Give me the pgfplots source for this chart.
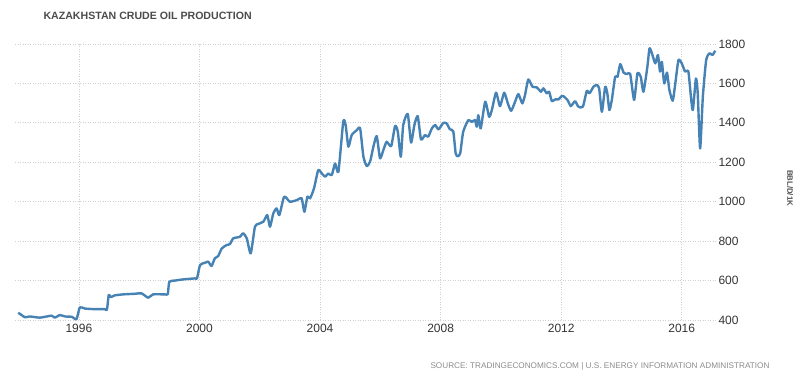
\documentclass[border=0pt]{standalone}
\usepackage{fontspec}
\setmainfont{Liberation Sans}
\usepackage{pgfplots}
\usepackage{pgfplotstable}
\pgfplotsset{compat=1.18}
\definecolor{lineblue}{HTML}{4682B4}
\definecolor{gridgray}{HTML}{CFCFD6}
\pgfplotstableread{
year val
1993.99 437
1994.21 414
1994.37 418
1994.71 412
1995.09 422
1995.20 412
1995.37 425
1995.54 418
1995.77 416
1995.92 404
1996.03 464
1996.20 458
1996.53 455
1996.86 455
1996.93 452
1996.99 527
1997.06 516
1997.19 525
1997.47 530
1997.86 533
1998.08 535
1998.30 513
1998.46 530
1998.85 530
1998.95 532
1999.00 594
1999.19 600
1999.46 606
1999.85 611
1999.92 612
2000.02 679
2000.18 690
2000.29 696
2000.40 674
2000.51 713
2000.62 724
2000.74 763
2000.90 780
2001.01 785
2001.12 814
2001.34 822
2001.45 840
2001.57 814
2001.70 738
2001.84 873
2001.95 887
2002.12 899
2002.25 932
2002.34 873
2002.45 941
2002.56 966
2002.65 932
2002.81 1025
2003.00 1000
2003.23 1008
2003.39 1017
2003.48 949
2003.58 1025
2003.67 1017
2003.80 1068
2003.94 1160
2004.06 1143
2004.17 1127
2004.27 1143
2004.39 1135
2004.50 1194
2004.61 1152
2004.77 1406
2004.85 1389
2004.94 1279
2005.05 1338
2005.22 1363
2005.33 1372
2005.44 1228
2005.55 1181
2005.66 1203
2005.77 1279
2005.88 1333
2005.99 1220
2006.10 1262
2006.21 1304
2006.36 1282
2006.49 1384
2006.58 1355
2006.68 1228
2006.76 1389
2006.91 1445
2007.02 1300
2007.13 1389
2007.24 1434
2007.35 1316
2007.48 1338
2007.59 1330
2007.71 1372
2007.82 1389
2007.93 1367
2008.09 1400
2008.20 1397
2008.31 1367
2008.42 1357
2008.50 1245
2008.57 1231
2008.65 1245
2008.75 1355
2008.92 1414
2009.03 1405
2009.14 1414
2009.20 1380
2009.25 1439
2009.33 1372
2009.48 1507
2009.61 1431
2009.70 1465
2009.84 1553
2009.97 1485
2010.11 1553
2010.23 1499
2010.34 1461
2010.47 1507
2010.58 1546
2010.71 1499
2010.80 1541
2010.91 1620
2011.05 1583
2011.19 1580
2011.33 1558
2011.41 1575
2011.52 1550
2011.60 1558
2011.69 1510
2011.80 1519
2011.91 1519
2012.02 1536
2012.07 1536
2012.21 1516
2012.32 1485
2012.46 1510
2012.57 1482
2012.72 1482
2012.85 1562
2012.94 1550
2013.07 1583
2013.18 1592
2013.26 1575
2013.35 1456
2013.46 1583
2013.53 1550
2013.60 1465
2013.68 1516
2013.79 1634
2013.87 1634
2013.96 1698
2014.07 1655
2014.18 1648
2014.29 1648
2014.42 1516
2014.53 1651
2014.64 1634
2014.73 1558
2014.86 1685
2014.93 1778
2015.01 1753
2015.12 1702
2015.21 1744
2015.28 1660
2015.34 1710
2015.42 1600
2015.51 1655
2015.59 1567
2015.70 1512
2015.78 1592
2015.89 1718
2016.00 1702
2016.11 1660
2016.22 1660
2016.31 1524
2016.37 1465
2016.47 1625
2016.53 1550
2016.61 1270
2016.70 1532
2016.81 1718
2016.92 1753
2017.02 1744
2017.11 1766
}\oildata
\begin{document}
\begin{tikzpicture}
\path[use as bounding box] (0pt,0pt) rectangle (800pt,378pt);
\begin{axis}[
  at={(15pt,58pt)}, anchor=south west,
  scale only axis, width=702pt, height=276pt,
  xmin=1993.88, xmax=2017.17, ymin=400, ymax=1800,
  clip=false,
  axis line style={draw=none},
  tick style={draw=none},
  grid=major,
  major grid style={gridgray, line width=0.8pt, dash pattern=on 1pt off 1.5pt},
  xtick={1996,2000,2004,2008,2012,2016},
  ytick={400,600,800,1000,1200,1400,1600,1800},
  yticklabel pos=right,
  /pgf/number format/1000 sep={},
  /pgf/number format/assume math mode=true,
  ticklabel style={font=\fontsize{12}{14}\selectfont, text=black!80},
  xticklabel style={yshift=-1pt},
  yticklabel style={xshift=-2pt},
]
\addplot[lineblue, line width=2.4pt, line join=round, smooth, tension=0.35] table[x=year, y=val] {\oildata};
\end{axis}
\node[anchor=west, font=\bfseries\fontsize{10.6}{12}\selectfont, text=black!70] at (40pt,362.5pt) {KAZAKHSTAN CRUDE OIL PRODUCTION};
\node[anchor=east, font=\fontsize{8.2}{10}\selectfont, text=black!45] at (773pt,12pt) {SOURCE: TRADINGECONOMICS.COM | U.S. ENERGY INFORMATION ADMINISTRATION};
\node[rotate=-90, font=\bfseries\fontsize{7.8}{9}\selectfont, text=black!70] at (790pt,190pt) {BBL/D/1K};
\end{tikzpicture}
\end{document}
